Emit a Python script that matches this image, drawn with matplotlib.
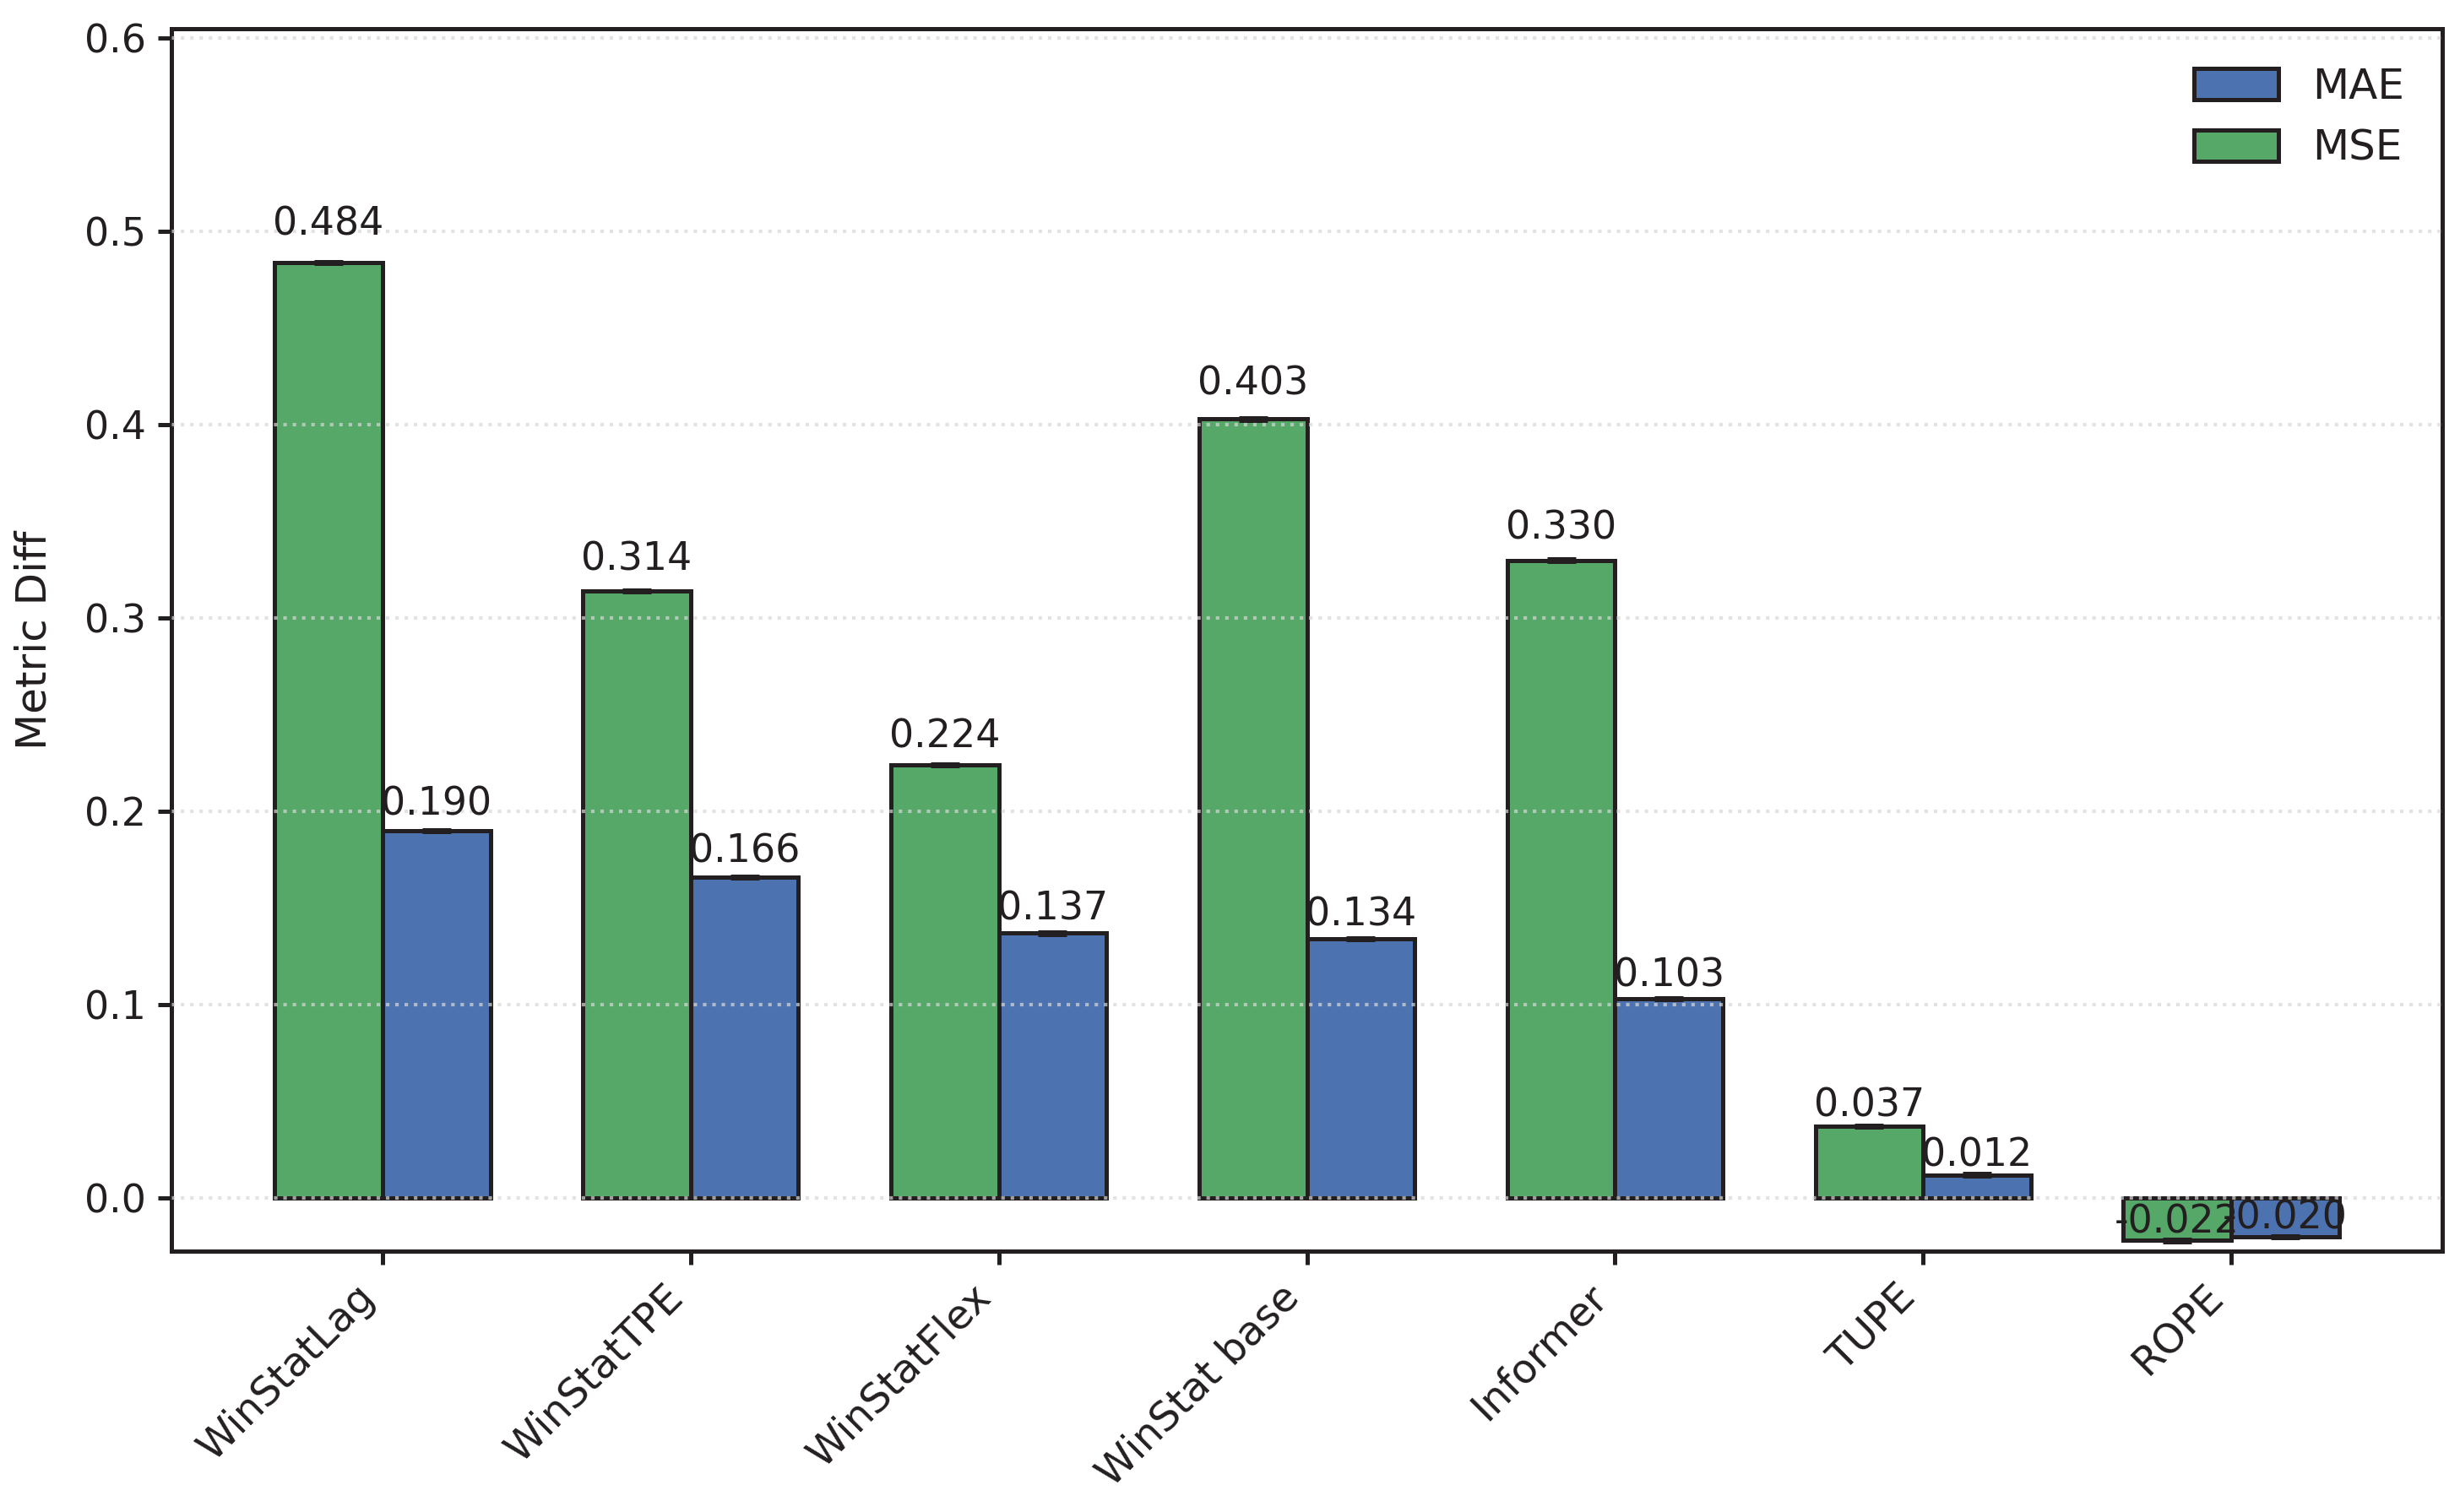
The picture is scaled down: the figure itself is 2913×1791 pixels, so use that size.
import matplotlib
matplotlib.use("Agg")
import matplotlib.pyplot as plt
import numpy as np

categories = ["WinStatLag", "WinStatTPE", "WinStatFlex", "WinStat base", "Informer", "TUPE", "ROPE"]
mse_vals = [0.484, 0.314, 0.224, 0.403, 0.330, 0.037, -0.022]
mae_vals = [0.190, 0.166, 0.137, 0.134, 0.103, 0.012, -0.020]
mse_err = [0.0005, 0.0005, 0.0005, 0.0005, 0.0005, 0.0005, 0.0005]
mae_err = [0.0005, 0.0005, 0.0005, 0.0005, 0.0005, 0.0005, 0.0005]

TXT = "#231f20"
plt.rcParams.update({
    "font.family": ["DejaVu Sans"],
    "text.color": TXT,
    "axes.labelcolor": TXT,
    "xtick.color": TXT,
    "ytick.color": TXT,
    "axes.edgecolor": TXT,
})

fig = plt.figure(figsize=(2913 / 300, 1791 / 300), dpi=300)
ax = fig.add_axes([203 / 2913, 1 - 1482 / 1791, (2892 - 203) / 2913, (1482 - 34) / 1791])

x = np.arange(len(categories))
w = 0.35
green = "#55A868"
blue = "#4C72B0"

b_mse = ax.bar(x - w / 2, mse_vals, w, yerr=mse_err, color=green, edgecolor=TXT, linewidth=1.2,
               label="MSE", capsize=4, error_kw=dict(elinewidth=1.2, capthick=1.2, ecolor=TXT), zorder=2)
b_mae = ax.bar(x + w / 2, mae_vals, w, yerr=mae_err, color=blue, edgecolor=TXT, linewidth=1.2,
               label="MAE", capsize=4, error_kw=dict(elinewidth=1.2, capthick=1.2, ecolor=TXT), zorder=2)

for xs, vals in ((x - w / 2, mse_vals), (x + w / 2, mae_vals)):
    for xi, v in zip(xs, vals):
        ax.text(xi, v * 1.02, f"{v:.3f}", ha="center", va="bottom", fontsize=11, zorder=4)

allv = mse_vals + mae_vals
ax.set_ylim(min(allv) * 1.25, max(allv) * 1.25)
ax.set_yticks([0.0, 0.1, 0.2, 0.3, 0.4, 0.5, 0.6])
ax.set_yticklabels(["0.0", "0.1", "0.2", "0.3", "0.4", "0.5", "0.6"])
ax.set_xticks(x)
ax.set_xticklabels(categories, rotation=45, ha="right")
ax.set_ylabel("Metric Diff", fontsize=12, labelpad=8.5)
ax.tick_params(axis="both", length=3.8, width=1.2, labelsize=11)
ax.tick_params(axis="x", labelsize=11.5)
for s in ax.spines.values():
    s.set_linewidth(1.2)

ax.yaxis.grid(True, linestyle=":", color="#d8d8d8", linewidth=1.0, alpha=0.7, zorder=3)
ax.set_axisbelow(False)

handles = [b_mae, b_mse]
ax.legend(handles, ["MAE", "MSE"], loc="upper right", frameon=False, fontsize=12,
          handlelength=2.0, handleheight=0.75)

fig.savefig("out.png", dpi=300)
